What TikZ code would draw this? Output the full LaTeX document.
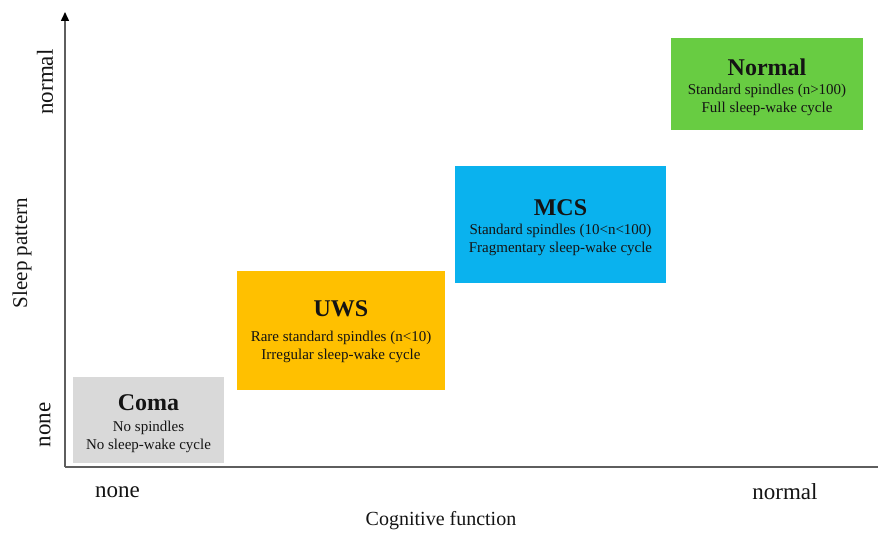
\documentclass[tikz,border=0pt]{standalone}
\usepackage{fontspec}
\setmainfont{Liberation Serif}
\usetikzlibrary{arrows.meta}
\definecolor{comagray}{HTML}{D9D9D9}
\definecolor{uwsorange}{HTML}{FFC000}
\definecolor{mcsblue}{HTML}{0AB2EE}
\definecolor{normgreen}{HTML}{68CC42}
\definecolor{axisgray}{HTML}{5E5E5E}
\definecolor{ink}{HTML}{141414}
\tikzset{
  statebox/.style={draw=none, inner sep=0pt, minimum width=#1},
  titletext/.style={text=ink, inner sep=0pt, font=\fontsize{24}{26}\selectfont\bfseries},
  desctext/.style={text=ink, inner sep=0pt, align=center, font=\fontsize{15}{18}\selectfont},
  axisline/.style={draw=axisgray, line width=1.5pt},
  ticklabel/.style={text=ink, inner sep=0pt, font=\fontsize{23}{26}\selectfont},
  axistitle/.style={text=ink, inner sep=0pt, font=\fontsize{20}{24}\selectfont},
}
\begin{document}
\begin{tikzpicture}[x=1pt, y=-1pt]
\useasboundingbox (0,0) rectangle (878,535);
\fill[white] (0,0) rectangle (878,535);

% axes
\coordinate (origin) at (65,467);
\coordinate (ytip) at (65,12);
\coordinate (xend) at (878,467);
\draw[axisline, -{Triangle[length=9pt, width=8pt, color=black]}] (origin) -- (ytip);
\draw[axisline] (origin) -- (xend);

% boxes
\node[statebox=151pt, minimum height=86pt, fill=comagray] (coma) at (148.5,420) {};
\node[titletext] (comaT) at (148.5,403) {Coma};
\node[desctext] (comaD) at (148.5,437) {No spindles\\No sleep-wake cycle};

\node[statebox=208pt, minimum height=119pt, fill=uwsorange] (uws) at (341,330.5) {};
\node[titletext] (uwsT) at (341,309) {UWS};
\node[desctext] (uwsD) at (341,346.5) {Rare standard spindles (n<10)\\Irregular sleep-wake cycle};

\node[statebox=211pt, minimum height=117pt, fill=mcsblue] (mcs) at (560.5,224.5) {};
\node[titletext] (mcsT) at (560.5,208) {MCS};
\node[desctext] (mcsD) at (560.5,240) {Standard spindles (10<n<100)\\Fragmentary sleep-wake cycle};

\node[statebox=192pt, minimum height=92pt, fill=normgreen] (norm) at (767,84) {};
\node[titletext] (normT) at (767,67) {Normal};
\node[desctext] (normD) at (767,99.5) {Standard spindles (n>100)\\Full sleep-wake cycle};

% axis labels
\node[ticklabel] (xnone) at (117.5,492) {none};
\node[ticklabel] (xnormal) at (785,492) {normal};
\node[axistitle] (xtitle) at (441,521) {Cognitive function};
\node[ticklabel, rotate=90] (ynone) at (45,425) {none};
\node[ticklabel, rotate=90] (ynormal) at (45,82) {normal};
\node[axistitle, font=\fontsize{21}{24}\selectfont, rotate=90] (ytitle) at (22,253) {Sleep pattern};
\end{tikzpicture}
\end{document}
